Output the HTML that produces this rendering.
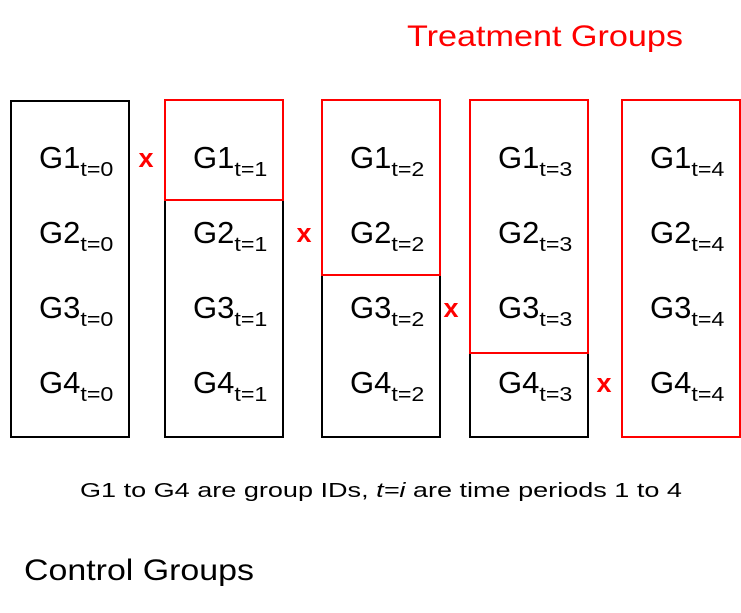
<!DOCTYPE html>
<html><head><meta charset="utf-8"><style>
html,body{margin:0;padding:0;background:#fff;}
svg{display:block;font-family:"Liberation Sans",sans-serif;}
</style></head><body>
<svg width="741" height="613" viewBox="0 0 741 613">
<text x="407" y="46" font-size="30" fill="#ff0000" textLength="276" lengthAdjust="spacingAndGlyphs">Treatment Groups</text>
<g id="boxes"></g>
<text x="80" y="497" font-size="20" fill="#000" textLength="602" lengthAdjust="spacingAndGlyphs">G1 to G4 are group IDs, <tspan font-style="italic">t=i</tspan> are time periods 1 to 4</text>
<text x="24" y="580" font-size="30" fill="#000" textLength="230" lengthAdjust="spacingAndGlyphs">Control Groups</text>
</svg>
<script>
const periods=[0,1,2,3,4];
const treatedCount=[0,1,2,3,4];
const boxX=[11,165,322,470,622];
const NS="http://www.w3.org/2000/svg";
const grp=document.getElementById('boxes');
function mk(t,a){const e=document.createElementNS(NS,t);for(const k in a)e.setAttribute(k,a[k]);return e;}
const boxW=118, boxTop=101, boxBottom=437, rowH=75;
periods.forEach((p,i)=>{
  const x=boxX[i], n=treatedCount[i];
  const split=n>=4?boxBottom:(n===0?boxTop:125+n*rowH+(n===3?3:0));
  if(n<4){
    const r=mk('rect',{x:x,y:split,width:boxW,height:boxBottom-split,fill:'none',stroke:'#000','stroke-width':2});
    
    
    grp.appendChild(r);
  }
  if(n>0){
    const r=mk('rect',{x:x,y:100,width:boxW,height:split-100,fill:'none',stroke:'#ff0000','stroke-width':2});
    
    
    grp.appendChild(r);
  }
  for(let k=0;k<4;k++){
    const by=168+k*75;
    const t=mk('text',{x:x+28,y:by,'font-size':31,fill:'#000'});
    
    
    t.textContent='G'+(k+1);
    const s=mk('tspan',{'font-size':20,dy:8,textLength:33,lengthAdjust:'spacingAndGlyphs'});
    s.textContent='t='+p;
    t.appendChild(s);
    grp.appendChild(t);
  }
  if(i<4){
    const m=treatedCount[i+1];
    const by=167+(m-1)*75;
    const xm=[146,304,451,604][i];
    const t=mk('text',{x:xm,y:by,'font-size':27,'font-weight':'bold',fill:'#ff0000','text-anchor':'middle'});
    
    
    t.textContent='x';
    grp.appendChild(t);
  }
});
</script>
</body></html>
